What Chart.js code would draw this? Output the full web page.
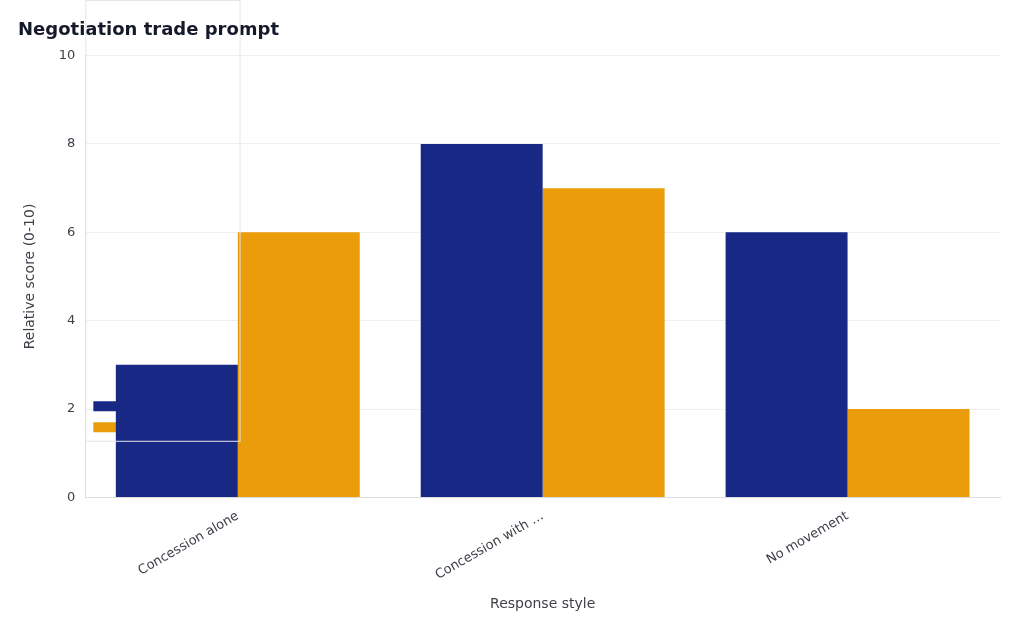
<!DOCTYPE html>
<html><head><meta charset="utf-8">
<script src="https://cdn.jsdelivr.net/npm/chart.js@4/dist/chart.umd.min.js"></script>
<style>html,body{margin:0;background:#fff}#wrap{width:1024px;height:631px}</style>
</head><body><div id="wrap"><canvas id="c"></canvas></div>
<script>
// Données du graphique
const categories = ["Concession alone", "Concession with trade", "No movement"];
const valueProtected = [3, 8, 6];
const buyerProgress = [6, 7, 2];
const yTicks = [0, 2, 4, 6, 8, 10];

// Cadre autour de la légende
const legendBox = {
  id: "legendBox",
  afterDraw(chart) {
    const l = chart.legend, ctx = chart.ctx;
    ctx.save();
    ctx.strokeStyle = "#e5e5e5";
    ctx.lineWidth = 1;
    ctx.strokeRect(l.left + 0.5, l.top + 0.5, l.width - 1, l.height - 1);
    ctx.restore();
  }
};

Chart.defaults.font.family = "'DejaVu Sans', sans-serif";
Chart.defaults.color = "#3f3f4a";

new Chart(document.getElementById("c"), {
  type: "bar",
  data: {
    labels: categories,
    datasets: [
      { label: "Value protected", data: valueProtected, backgroundColor: "#172985" },
      { label: "Buyer progress", data: buyerProgress, backgroundColor: "#eb9c0a" }
    ]
  },
  options: {
    responsive: true,
    maintainAspectRatio: false,
    animation: false,
    layout: { padding: { left: 18, right: 24, top: 10, bottom: 14 } },
    datasets: { bar: { categoryPercentage: 0.8, barPercentage: 1 } },
    plugins: {
      title: {
        display: true, text: "Negotiation trade prompt", align: "start",
        color: "#151a2b", font: { size: 18, weight: "bold" },
        padding: { top: 10, bottom: 14 }
      },
      legend: {
        position: "chartArea", align: "end",
        labels: { boxWidth: 28, boxHeight: 10, font: { size: 13 }, padding: 8 }
      },
      tooltip: { enabled: false }
    },
    scales: {
      x: {
        grid: { display: false },
        border: { color: "#dddddd" },
        ticks: {
          font: { size: 13 }, maxRotation: 30, minRotation: 30,
          callback(v) {
            const s = categories[v];
            return s.length > 17 ? s.slice(0, 16) + "…" : s;
          }
        },
        title: { display: true, text: "Response style", font: { size: 14 }, padding: { top: 10 } }
      },
      y: {
        min: 0, max: 10,
        afterBuildTicks(axis) { axis.ticks = yTicks.map(v => ({ value: v })); },
        grid: { color: "#efefef", drawTicks: false },
        border: { color: "#dddddd" },
        ticks: { font: { size: 13 }, padding: 10 },
        title: { display: true, text: "Relative score (0-10)", font: { size: 14 }, padding: { bottom: 10 } }
      }
    }
  },
  plugins: [legendBox]
});
</script></body></html>
